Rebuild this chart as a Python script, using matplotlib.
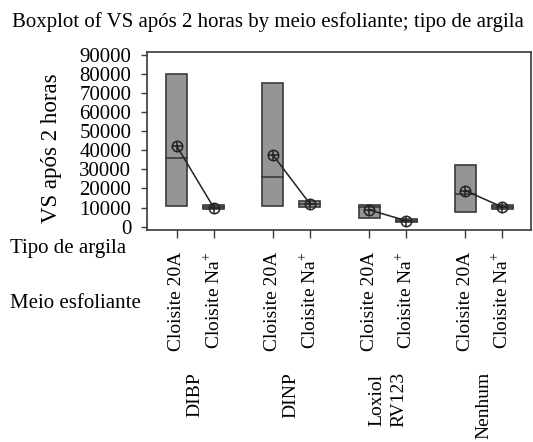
import matplotlib.pyplot as plt
from matplotlib.patches import Rectangle
import matplotlib.transforms as mtransforms

# data
meio = ['DIBP', 'DINP', 'Loxiol\nRV123', 'Nenhum']
tipo = ['Cloisite 20A', 'Cloisite Na$^{+}$']
q1 = [10800, 9300, 10800, 10500, 4400, 2300, 7900, 9100]
q3 = [80000, 11500, 75500, 13300, 11400, 3900, 32200, 11400]
medians = [36200, 10300, 26200, 11900, 10500, 3150, 17000, 10300]
means = [42300, 10000, 37600, 12000, 8800, 3150, 18900, 10300]

plt.rcParams['font.family'] = ['Liberation Serif', 'DejaVu Serif']
plt.rcParams['mathtext.fontset'] = 'custom'
plt.rcParams['mathtext.rm'] = 'Liberation Serif'
plt.rcParams['font.size'] = 15

fig = plt.figure(figsize=(5.33, 4.42), dpi=100)
W, H = 533, 442
ax = fig.add_axes([147.3 / W, 1 - 229.5 / H, (530.7 - 147.3) / W, (229.5 - 52.3) / H])

gap = 2.6
pos = []
for g in range(len(meio)):
    for j in range(len(tipo)):
        pos.append(g * gap + j)

bw = 0.57
edge = '#3a3a3a'
for i, x in enumerate(pos):
    ax.add_patch(Rectangle((x - bw / 2, q1[i]), bw, q3[i] - q1[i],
                           facecolor='#959595', edgecolor=edge, lw=1.2, zorder=2))
    ax.plot([x - bw / 2, x + bw / 2], [medians[i], medians[i]], color=edge, lw=1.2, zorder=3)

# mean lines within each group
for g in range(len(meio)):
    xs = pos[2 * g:2 * g + 2]
    ys = means[2 * g:2 * g + 2]
    ax.plot(xs, ys, color='#222222', lw=1.1, zorder=4)
ax.plot(pos, means, ls='none', marker='o', ms=7.5, mfc='none', mec='#222222', mew=1.1, zorder=5)
ax.plot(pos, means, ls='none', marker='+', ms=7.5, mec='#222222', mew=1.1, zorder=5)

ax.set_xlim(-0.795, 9.57)
ax.set_ylim(-1500, 91400)
ax.set_yticks(range(0, 90001, 10000))
ax.set_xticks(pos)
ax.set_xticklabels(tipo * len(meio), rotation=90, va='top', ha='center', fontsize=14)
ax.tick_params(axis='y', length=4.5, width=1, color=edge, pad=7)
ax.tick_params(axis='x', length=6, width=1, color=edge, pad=10)
for s in ax.spines.values():
    s.set_color(edge)
    s.set_linewidth(1.2)

ax.set_ylabel('VS após 2 horas', fontsize=16.5)
ax.yaxis.set_label_coords(62 / W, 1 - 148 / H, transform=fig.transFigure)

trans = mtransforms.blended_transform_factory(ax.transData, fig.transFigure)
for g, name in enumerate(meio):
    ax.text(g * gap + 0.5, 1 - 372 / H, name, rotation=90, va='top', ha='center',
            transform=trans, linespacing=1.4, fontsize=14)

fig.text(10 / W, 1 - 249 / H, 'Tipo de argila', ha='left', va='center')
fig.text(10 / W, 1 - 304 / H, 'Meio esfoliante', ha='left', va='center')
fig.text(268 / W, 1 - 22 / H, 'Boxplot of VS após 2 horas by meio esfoliante; tipo de argila',
         ha='center', va='center')

fig.savefig('out.png', dpi=100)
